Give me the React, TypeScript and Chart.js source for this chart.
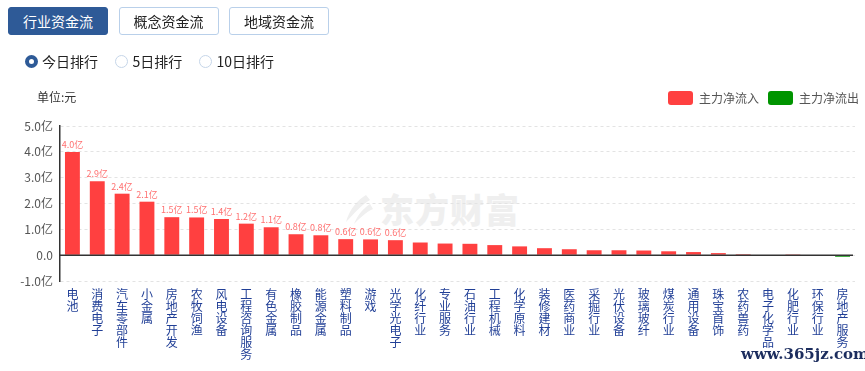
import React, { useEffect, useRef } from "react";
import { Chart, registerables } from "chart.js";

Chart.register(...registerables);

const categories: string[] = [
  "电池", "消费电子", "汽车零部件", "小金属", "房地产开发", "农牧饲渔", "风电设备", "工程咨询服务",
  "有色金属", "橡胶制品", "能源金属", "塑料制品", "游戏", "光学光电子", "化纤行业", "专业服务",
  "石油行业", "工程机械", "化学原料", "装修建材", "医药商业", "采掘行业", "光伏设备", "玻璃玻纤",
  "煤炭行业", "通用设备", "珠宝首饰", "农药兽药", "电子化学品", "化肥行业", "环保行业", "房地产服务",
];

const netFlow: number[] = [
  3.99, 2.86, 2.38, 2.07, 1.47, 1.46, 1.40, 1.22, 1.08, 0.81, 0.77, 0.62, 0.61, 0.58, 0.49, 0.45,
  0.44, 0.39, 0.34, 0.27, 0.23, 0.19, 0.19, 0.18, 0.15, 0.12, 0.08, 0.04, 0.02, 0.005, -0.01, -0.06,
];

const yTicks: number[] = [-1, 0, 1, 2, 3, 4, 5];
const labeledCount = 14;

const RED = "#ff4040";
const GREEN = "#009400";

const tabs = ["行业资金流", "概念资金流", "地域资金流"];
const radios = ["今日排行", "5日排行", "10日排行"];
const legendItems = [
  { text: "主力净流入", color: RED },
  { text: "主力净流出", color: GREEN },
];

const FONT = "'Noto Sans CJK SC', 'Noto Sans', sans-serif";

const extras = {
  id: "extras",
  afterDatasetsDraw(chart: any) {
    const { ctx, chartArea, scales } = chart;
    const y0 = scales.y.getPixelForValue(0);
    ctx.save();
    ctx.strokeStyle = "#333333";
    ctx.lineWidth = 1.5;
    ctx.beginPath();
    ctx.moveTo(chartArea.left, y0);
    ctx.lineTo(chartArea.right - 2, y0);
    ctx.stroke();
    const meta = chart.getDatasetMeta(0);
    ctx.fillStyle = "#ff7070";
    ctx.font = `9px ${FONT}`;
    ctx.textAlign = "center";
    ctx.textBaseline = "bottom";
    meta.data.forEach((bar: any, i: number) => {
      if (i >= labeledCount) return;
      const v = netFlow[i];
      ctx.fillText(`${v.toFixed(1)}亿`, bar.x, bar.y - 3);
    });
    ctx.restore();
  },
};

function ChartCanvas() {
  const ref = useRef<HTMLCanvasElement | null>(null);
  useEffect(() => {
    if (!ref.current) return;
    const chart = new Chart(ref.current, {
      type: "bar",
      data: {
        labels: categories.map((c) => c.split("")),
        datasets: [
          {
            data: netFlow,
            backgroundColor: netFlow.map((v) => (v >= 0 ? RED : GREEN)),
            barPercentage: 0.6,
            categoryPercentage: 1,
          },
        ],
      },
      options: {
        responsive: false,
        animation: false,
        layout: { padding: { top: 126, right: 10, left: 0, bottom: 0 } },
        plugins: { legend: { display: false }, tooltip: { enabled: false }, title: { display: false } },
        scales: {
          x: {
            grid: { display: false, drawTicks: false },
            border: { display: false },
            ticks: {
              autoSkip: false,
              maxRotation: 0,
              minRotation: 0,
              padding: 7,
              color: "#213f96",
              font: { family: FONT, size: 12, lineHeight: "12px" },
            },
            afterFit: (s: any) => {
              s.height = 90;
            },
          },
          y: {
            min: -1,
            max: 5,
            afterBuildTicks: (s: any) => {
              s.ticks = yTicks.map((v) => ({ value: v }));
            },
            grid: {
              color: "#e3e3e3",
              drawTicks: false,
            },
            border: { display: true, color: "#333333", width: 1.5, dash: [3, 3] },
            ticks: {
              padding: 7,
              color: "#555555",
              font: { family: FONT, size: 12 },
              callback: (v: any) => (Number(v) === 0 ? "0.0" : `${Number(v).toFixed(1)}亿`),
            },
            afterFit: (s: any) => {
              s.width = 60;
            },
          },
        },
      },
      plugins: [extras],
    });
    return () => chart.destroy();
  }, []);
  return (
    <canvas
      ref={ref}
      width={865}
      height={371}
      style={{ position: "absolute", left: 0, top: 0, width: 865, height: 371 }}
    />
  );
}

export default function App() {
  useEffect(() => {
    document.body.style.margin = "0";
  }, []);
  return (
    <div style={{ position: "relative", width: 865, height: 371, fontFamily: FONT, background: "#fff", overflow: "hidden" }}>
      {/* watermark */}
      <div style={{ position: "absolute", left: 340, top: 191, display: "flex", alignItems: "center", color: "#efefef" }}>
        <svg width="34" height="34" viewBox="0 0 34 34">
          <path d="M26 3 C 18 8, 10 16, 6 30 C 14 22, 20 14, 30 8 Z" fill="#efefef" />
          <path d="M30 12 C 24 16, 18 22, 14 32 C 20 26, 26 20, 33 17 Z" fill="#efefef" />
        </svg>
        <span style={{ fontSize: 34, fontWeight: 900, letterSpacing: 1, marginLeft: 6, lineHeight: "36px" }}>东方财富</span>
      </div>
      <ChartCanvas />
      {/* tabs */}
      {tabs.map((t, i) => (
        <div
          key={t}
          style={{
            position: "absolute",
            left: 8 + i * 110.5,
            top: 7,
            width: 100,
            height: 28,
            boxSizing: "border-box",
            borderRadius: 3,
            border: i === 0 ? "1px solid #2e5a97" : "1px solid #b9d0ea",
            background: i === 0 ? "#2e5a97" : "#ffffff",
            color: i === 0 ? "#ffffff" : "#222222",
            fontSize: 14,
            lineHeight: "26px",
            textAlign: "center",
          }}
        >
          {t}
        </div>
      ))}
      {/* radios */}
      {radios.map((r, i) => {
        const cx = [31, 121.5, 205.5][i];
        return (
          <React.Fragment key={r}>
            <div
              style={{
                position: "absolute",
                left: cx - 6.5,
                top: 54.5,
                width: 13,
                height: 13,
                boxSizing: "border-box",
                borderRadius: "50%",
                border: i === 0 ? "4px solid #2e5a97" : "1px solid #c5d5e8",
                background: "#fff",
              }}
            />
            <div
              style={{
                position: "absolute",
                left: cx + 11,
                top: 51,
                fontSize: 14,
                lineHeight: "20px",
                color: "#222222",
                whiteSpace: "nowrap",
              }}
            >
              {r}
            </div>
          </React.Fragment>
        );
      })}
      {/* unit title */}
      <div style={{ position: "absolute", left: 37, top: 89, fontSize: 12, lineHeight: "16px", color: "#333" }}>单位:元</div>
      {/* legend */}
      {legendItems.map((l, i) => (
        <React.Fragment key={l.text}>
          <div
            style={{
              position: "absolute",
              left: 668 + i * 100,
              top: 91,
              width: 25,
              height: 14,
              borderRadius: 3,
              background: l.color,
            }}
          />
          <div
            style={{
              position: "absolute",
              left: 699 + i * 100,
              top: 90,
              fontSize: 12,
              lineHeight: "16px",
              color: "#555",
              whiteSpace: "nowrap",
            }}
          >
            {l.text}
          </div>
        </React.Fragment>
      ))}
      {/* site watermark */}
      <div
        style={{
          position: "absolute",
          left: 741,
          top: 344,
          fontFamily: "'DejaVu Serif', 'Liberation Serif', serif",
          fontSize: 15,
          fontWeight: 700,
          color: "#1c2d5e",
          whiteSpace: "nowrap",
          lineHeight: "20px",
        }}
      >
        www.365jz.com
      </div>
    </div>
  );
}
